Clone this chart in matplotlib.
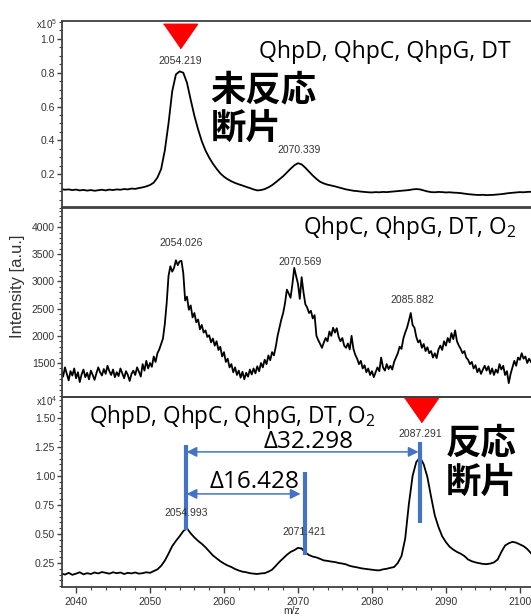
import numpy as np
import matplotlib
matplotlib.use('Agg')
import matplotlib.pyplot as plt
from matplotlib.ticker import MultipleLocator, FixedLocator, FormatStrFormatter

plt.rcParams['font.family'] = ['Liberation Sans', 'DejaVu Sans']
plt.rcParams['mathtext.fontset'] = 'custom'
plt.rcParams['mathtext.rm'] = 'Open Sans'

# spectra, sampled on a regular m/z grid
mz_start = 2038.0
top_step = 0.5
mid_step = 0.25
bot_step = 0.5

# QhpD, QhpC, QhpG, DT  (x10^5)
top_intensity = [
    0.112, 0.108, 0.110, 0.106, 0.109, 0.104, 0.107, 0.103, 0.106, 0.102,
    0.105, 0.108, 0.104, 0.109, 0.106, 0.110, 0.108, 0.112, 0.110, 0.115,
    0.113, 0.118, 0.122, 0.128, 0.136, 0.150, 0.180, 0.230, 0.340, 0.500,
    0.690, 0.790, 0.808, 0.800, 0.740, 0.640, 0.545, 0.465, 0.395, 0.340,
    0.298, 0.262, 0.232, 0.205, 0.185, 0.170, 0.158, 0.148, 0.140, 0.133,
    0.125, 0.118, 0.110, 0.104, 0.106, 0.112, 0.122, 0.135, 0.152, 0.170,
    0.188, 0.210, 0.232, 0.252, 0.265, 0.258, 0.238, 0.215, 0.192, 0.172,
    0.155, 0.145, 0.138, 0.133, 0.128, 0.122, 0.116, 0.110, 0.106, 0.102,
    0.100, 0.097, 0.095, 0.093, 0.092, 0.094, 0.093, 0.095, 0.094, 0.096,
    0.098, 0.100, 0.102, 0.104, 0.106, 0.110, 0.112, 0.110, 0.104, 0.098,
    0.094, 0.093, 0.095, 0.094, 0.092, 0.093, 0.091, 0.090, 0.088, 0.085,
    0.082, 0.080, 0.078, 0.077, 0.078, 0.076, 0.077, 0.078, 0.080, 0.082,
    0.085, 0.088, 0.090, 0.092, 0.094, 0.093, 0.095, 0.096]

# QhpC, QhpG, DT, O2
mid_intensity = [
    1380, 1250, 1420, 1300, 1180, 1350, 1270, 1400, 1220, 1330, 1150, 1290, 1380, 1240, 1320, 1200, 1360, 1280, 1190, 1310,
    1420, 1330, 1270, 1390, 1300, 1450, 1350, 1280, 1380, 1240, 1330, 1260, 1400, 1310, 1220, 1350, 1280, 1170, 1300, 1360,
    1280, 1420, 1340, 1250, 1480, 1360, 1540, 1400, 1500, 1430, 1620, 1520, 1680, 1750, 1850, 1950, 2220, 2600, 3100, 3280,
    3180, 3250, 3390, 3300, 3370, 3380, 3150, 2650, 2720, 2480, 2560, 2340, 2420, 2250, 2300, 2120, 2200, 2060, 2100, 1980,
    2010, 1880, 1950, 1820, 1900, 1740, 1800, 1620, 1700, 1520, 1580, 1420, 1480, 1330, 1420, 1280, 1360, 1230, 1340, 1200,
    1320, 1250, 1380, 1290, 1400, 1310, 1440, 1350, 1500, 1420, 1560, 1480, 1640, 1550, 1700, 1640, 1800, 2000, 2150, 2300,
    2420, 2600, 2850, 2780, 2700, 2950, 3250, 3100, 2960, 2680, 3080, 2800, 2580, 2520, 2420, 2460, 2320, 2380, 2000, 1920,
    1850, 1780, 1880, 1960, 1900, 2080, 2000, 2150, 2060, 2140, 1980, 1900, 1960, 1820, 1780, 1860, 1750, 2000, 1760, 1650,
    1580, 1480, 1540, 1400, 1460, 1330, 1400, 1280, 1350, 1240, 1330, 1420, 1350, 1600, 1420, 1360, 1480, 1390, 1450, 1380,
    1520, 1600, 1680, 1800, 1760, 1950, 2060, 2150, 2280, 2420, 2200, 2150, 1980, 1880, 1920, 1780, 1850, 1720, 1790, 1680,
    1720, 1600, 1680, 1590, 1750, 1820, 1740, 1900, 1820, 1960, 1880, 2050, 1940, 2100, 1900, 1820, 1760, 1680, 1720, 1600,
    1560, 1480, 1520, 1400, 1460, 1330, 1400, 1300, 1380, 1450, 1360, 1440, 1300, 1400, 1280, 1380, 1320, 1480, 1380, 1450,
    1280, 1350, 1130, 1300, 1420, 1540, 1450, 1600, 1560, 1680, 1580, 1620, 1500, 1580, 1520]

# QhpD, QhpC, QhpG, DT, O2  (x10^4)
bot_intensity = [
    0.160, 0.150, 0.165, 0.148, 0.158, 0.170, 0.152, 0.162, 0.155, 0.168,
    0.160, 0.172, 0.165, 0.158, 0.170, 0.162, 0.168, 0.155, 0.165, 0.160,
    0.168, 0.158, 0.162, 0.170, 0.165, 0.180, 0.195, 0.225, 0.270, 0.330,
    0.395, 0.440, 0.480, 0.525, 0.548, 0.505, 0.470, 0.440, 0.415, 0.385,
    0.350, 0.315, 0.290, 0.265, 0.245, 0.228, 0.215, 0.198, 0.185, 0.175,
    0.170, 0.162, 0.158, 0.155, 0.160, 0.162, 0.175, 0.192, 0.225, 0.260,
    0.290, 0.320, 0.345, 0.360, 0.380, 0.375, 0.340, 0.318, 0.305, 0.298,
    0.285, 0.272, 0.268, 0.262, 0.258, 0.250, 0.245, 0.238, 0.225, 0.218,
    0.212, 0.205, 0.200, 0.196, 0.192, 0.188, 0.186, 0.195, 0.200, 0.208,
    0.215, 0.250, 0.310, 0.460, 0.760, 1.000, 1.120, 1.160, 1.100, 0.990,
    0.820, 0.660, 0.560, 0.480, 0.430, 0.390, 0.365, 0.345, 0.330, 0.310,
    0.280, 0.265, 0.255, 0.248, 0.242, 0.240, 0.245, 0.255, 0.280, 0.345,
    0.400, 0.420, 0.432, 0.425, 0.410, 0.395, 0.370, 0.335]

titles = ['QhpD, QhpC, QhpG, DT', r'QhpC, QhpG, DT, O$_\mathregular{2}$',
          r'QhpD, QhpC, QhpG, DT, O$_\mathregular{2}$']

top_yticks = [0.2, 0.4, 0.6, 0.8, 1.0]
mid_yticks = [1500, 2000, 2500, 3000, 3500, 4000]
bot_yticks = [0.25, 0.50, 0.75, 1.00, 1.25, 1.50]

# peak labels: (m/z position, label height, text)
top_peaks = [(2054.1, 0.87, '2054.219'), (2070.2, 0.341, '2070.339')]
mid_peaks = [(2054.2, 3706, '2054.026'), (2070.3, 3356, '2070.569'), (2085.4, 2658, '2085.882')]
bot_peaks = [(2054.9, 0.681, '2054.993'), (2070.9, 0.517, '2071.421'), (2086.6, 1.362, '2087.291')]

# red markers over the unreacted / reacted fragment
top_marker = (2054.1, 1.015)
bot_marker = (2086.6, 1.57)

# blue annotation lines and arrows in the bottom panel
blue_lines = [(2054.8, 0.534, 1.267), (2071.0, 0.319, 1.034), (2086.5, 0.595, 1.293)]
arrows = [(2054.95, 2086.3, 1.207, 'Δ32.298', 2071.5, 1.29),
          (2054.95, 2070.35, 0.845, 'Δ16.428', 2064.2, 0.948)]

blue = '#4472C4'
grey = '#333333'

W, H = 531, 616
fig = plt.figure(figsize=(W / 100, H / 100), dpi=100)

def px_axes(top, bottom):
    return fig.add_axes([62 / W, 1 - bottom / H, (545 - 62) / W, (bottom - top) / H])

ax1 = px_axes(21, 208)
ax2 = px_axes(207, 397)
ax3 = px_axes(397, 587)

mz_top = mz_start + top_step * np.arange(len(top_intensity))
mz_mid = mz_start + mid_step * np.arange(len(mid_intensity))
mz_bot = mz_start + bot_step * np.arange(len(bot_intensity))

ax1.plot(mz_top, top_intensity, color='black', lw=1.3)
ax2.plot(mz_mid, mid_intensity, color='black', lw=1.3)
ax3.plot(mz_bot, bot_intensity, color='black', lw=1.3)

ax1.set_ylim(0.0, 1.106)
ax2.set_ylim(875, 4370)
ax3.set_ylim(0.043, 1.68)

ax1.yaxis.set_major_locator(FixedLocator(top_yticks))
ax1.yaxis.set_minor_locator(MultipleLocator(0.05))
ax1.yaxis.set_major_formatter(FormatStrFormatter('%.1f'))
ax2.yaxis.set_major_locator(FixedLocator(mid_yticks))
ax2.yaxis.set_minor_locator(MultipleLocator(100))
ax3.yaxis.set_major_locator(FixedLocator(bot_yticks))
ax3.yaxis.set_minor_locator(MultipleLocator(0.05))
ax3.yaxis.set_major_formatter(FormatStrFormatter('%.2f'))
ax3.xaxis.set_major_locator(MultipleLocator(10))
ax3.xaxis.set_minor_locator(MultipleLocator(2))

for ax in (ax1, ax2, ax3):
    ax.set_xlim(2038.1, 2103.4)
    for s in ax.spines.values():
        s.set_color('#404040')
        s.set_linewidth(1.3)
    ax.tick_params(which='both', direction='out', colors='#404040', labelcolor=grey,
                   labelsize=7.5, pad=1.5)
    ax.tick_params(which='major', length=3.5, width=1)
    ax.tick_params(which='minor', length=2, width=0.8)
    ax.tick_params(axis='x', which='both', bottom=False, labelbottom=False)
    ax.patch.set_alpha(0)

ax3.tick_params(axis='x', which='both', bottom=True, labelbottom=True)
ax3.tick_params(axis='x', which='major', length=4, pad=3)

ax1.text(-0.01, 0.985, r'x10$^\mathregular{5}$', transform=ax1.transAxes, ha='right',
         va='center', fontsize=7, color=grey)
ax3.text(-0.01, 0.98, r'x10$^\mathregular{4}$', transform=ax3.transAxes, ha='right',
         va='center', fontsize=7, color=grey)

# peak labels
for ax, peaks in ((ax1, top_peaks), (ax2, mid_peaks), (ax3, bot_peaks)):
    for x, y, t in peaks:
        ax.text(x, y, t, ha='center', va='center', fontsize=7.5, color=grey)

# panel titles
ax1.text(2064.8, 0.92, titles[0], family='Open Sans', fontsize=16.6, va='center', ha='left')
ax2.text(2070.7, 3975, titles[1], family='Open Sans', fontsize=16.3, va='center', ha='left')
ax3.text(2041.7, 1.505, titles[2], family='Open Sans', fontsize=16.3, va='center', ha='left')

# japanese notes
jp = dict(family=['Noto Sans CJK JP', 'DejaVu Sans'], fontsize=25.5, fontweight='bold',
          linespacing=1.15, va='center', ha='left')
ax1.text(2058.2, 0.585, '未反応\n断片', **jp)
ax3.text(2090.0, 1.112, '反応\n断片', **jp)

# red triangles
tri = [(-1, 0.72), (1, 0.72), (0, -0.72)]
ax1.plot(*top_marker, marker=tri, markersize=24.5, color='#FF0000', clip_on=False, lw=0)
ax3.plot(*bot_marker, marker=tri, markersize=24.5, color='#FF0000', clip_on=False, lw=0)

# blue marks for the mass shifts
for x, y0, y1 in blue_lines:
    ax3.plot([x, x], [y0, y1], color=blue, lw=3, solid_capstyle='butt')
for x0, x1, y, t, tx, ty in arrows:
    ax3.annotate('', xy=(x1, y), xytext=(x0, y),
                 arrowprops=dict(arrowstyle='<|-|>', color=blue, lw=1.1,
                                 mutation_scale=15, shrinkA=0, shrinkB=0))
    ax3.text(tx, ty, t, family='Open Sans', fontsize=17.5, ha='center', va='center')

fig.text(18 / W, 1 - 286 / H, 'Intensity [a.u.]', rotation=90, ha='center', va='center',
         fontsize=12, color=grey)
fig.text(292 / W, 0.0, 'm/z', ha='center', va='bottom', fontsize=7.5, color=grey)

plt.savefig('out.png', dpi=100)
